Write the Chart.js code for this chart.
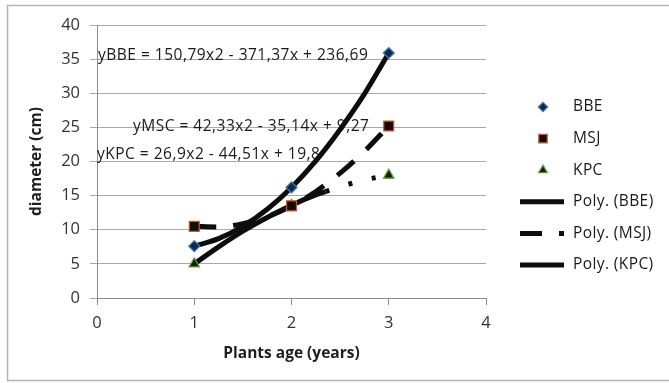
<!DOCTYPE html>
<html>
<head>
<meta charset="utf-8">
<script src="https://cdn.jsdelivr.net/npm/chart.js@4.4.1/dist/chart.umd.min.js"></script>
<style>
  html, body { margin: 0; padding: 0; background: #ffffff; }
  canvas { display: block; }
</style>
</head>
<body>
<canvas id="chart" width="669" height="383"></canvas>
<script>
// Measured stem diameter by plant age
const ages = [1, 2, 3];
const bbe = [7.6, 16.2, 35.9];
const msj = [10.5, 13.5, 25.2];
const kpc = [5.0, 13.6, 18.0];

// Second-order polynomial trend lines, sampled along the age axis
const trendAges = [1, 1.25, 1.5, 1.75, 2, 2.25, 2.5, 2.75, 3];
const trendBBE = [7.6, 8.7, 10.5, 13.0, 16.2, 20.1, 24.7, 29.9, 35.9];
const trendMSJ = [10.5, 10.4, 10.9, 11.9, 13.5, 15.6, 18.3, 21.5, 25.2];
const trendAgesKPC = [1, 1.25, 1.5, 1.75, 2, 2.25, 2.35, 2.5, 2.75, 3];
const trendKPC = [5.0, 7.5, 9.8, 11.8, 13.6, 15.1, 15.6, 16.3, 17.3, 18.0];

// Trend equations and where they sit (age, diameter)
const eqTexts = [
  'yBBE = 150,79x2 - 371,37x + 236,69',
  'yMSC = 42,33x2 - 35,14x + 9,27',
  'yKPC = 26,9x2 - 44,51x + 19,8'
];
const eqAnchors = [[0.01, 35.45], [0.37, 25.05], [0.0, 20.95]];

const xTicks = [0, 1, 2, 3, 4];
const yTicks = [0, 5, 10, 15, 20, 25, 30, 35, 40];

const legendLabels = ['BBE', 'MSJ', 'KPC', 'Poly. (BBE)', 'Poly. (MSJ)', 'Poly. (KPC)'];

const FONT = '"Open Sans", Lato, sans-serif';

const pts = (xs, ys) => xs.map((x, i) => ({ x: x, y: ys[i] }));

const markerStyles = [
  { pointStyle: 'rectRot', radius: 5.5, bg: '#14294a', border: '#3f7db8' },
  { pointStyle: 'rect', radius: 7, bg: '#120c0a', border: '#c65a30' },
  { pointStyle: 'triangle', radius: 6, bg: '#141f0e', border: '#5f9e3c' }
];
const TREND_W = 5;
const MSJ_DASH = [22, 17];

function markerDataset(label, ys, st) {
  return {
    type: 'scatter', label: label, data: pts(ages, ys), order: 0,
    pointStyle: st.pointStyle, pointRadius: st.radius, pointHoverRadius: st.radius,
    backgroundColor: st.bg, borderColor: st.border, borderWidth: 1.2, showLine: false
  };
}
function trendDataset(label, xs, ys, extra) {
  return Object.assign({
    type: 'line', label: label, data: pts(xs, ys), order: 1,
    borderColor: '#0d0d0d', borderWidth: TREND_W, pointRadius: 0,
    cubicInterpolationMode: 'monotone', fill: false, borderCapStyle: 'butt'
  }, extra || {});
}

const framePlugin = {
  id: 'frame',
  beforeDraw(chart) {
    const c = chart.ctx;
    c.save();
    c.fillStyle = '#ffffff';
    c.fillRect(0, 0, chart.width, chart.height);
    c.strokeStyle = '#b4b4b4';
    c.lineWidth = 1.5;
    c.strokeRect(7.5, 5.5, chart.width + 10, 375);
    c.restore();
  }
};

const equationPlugin = {
  id: 'equations',
  beforeDatasetsDraw(chart) {
    const c = chart.ctx;
    const xs = chart.scales.x, ys = chart.scales.y;
    c.save();
    c.font = '15.5px ' + FONT;
    c.letterSpacing = '0.5px';
    c.fillStyle = '#1a1a1a';
    c.textBaseline = 'middle';
    c.textAlign = 'left';
    eqTexts.forEach((t, i) => {
      c.fillText(t, xs.getPixelForValue(eqAnchors[i][0]), ys.getPixelForValue(eqAnchors[i][1]));
    });
    c.restore();
  }
};

const legendPlugin = {
  id: 'sideLegend',
  afterDraw(chart) {
    const c = chart.ctx;
    const right = chart.chartArea.right;
    const markX = right + 57, lineX0 = right + 34, lineX1 = right + 78, textX = right + 87;
    const y0 = 107, step = 31.6;
    c.save();
    c.font = '15.5px ' + FONT;
    c.letterSpacing = '0.4px';
    c.textBaseline = 'middle';
    legendLabels.forEach((lab, i) => {
      const y = y0 + i * step;
      if (i < 3) {
        const st = markerStyles[i];
        c.fillStyle = st.bg;
        c.strokeStyle = st.border;
        c.lineWidth = 1.2;
        Chart.helpers.drawPoint(c, { pointStyle: st.pointStyle, radius: st.radius * 0.85, borderWidth: 1.2 }, markX, y);
      } else {
        c.strokeStyle = '#0d0d0d';
        c.lineWidth = TREND_W;
        c.setLineDash(i === 4 ? MSJ_DASH : []);
        c.beginPath();
        c.moveTo(lineX0, y);
        c.lineTo(lineX1, y);
        c.stroke();
        c.setLineDash([]);
      }
      c.fillStyle = '#1a1a1a';
      c.fillText(lab, textX, y);
    });
    c.restore();
  }
};

new Chart(document.getElementById('chart'), {
  data: {
    datasets: [
      markerDataset('BBE', bbe, markerStyles[0]),
      markerDataset('MSJ', msj, markerStyles[1]),
      markerDataset('KPC', kpc, markerStyles[2]),
      trendDataset('Poly. (BBE)', trendAges, trendBBE),
      trendDataset('Poly. (MSJ)', trendAges, trendMSJ, { borderDash: MSJ_DASH }),
      trendDataset('Poly. (KPC)', trendAgesKPC, trendKPC, {
        segment: { borderDash: ctx => (ctx.p0.parsed.x >= 2.34 ? [4, 20] : undefined) }
      })
    ]
  },
  options: {
    responsive: false,
    animation: false,
    devicePixelRatio: 1,
    layout: { padding: { left: 0, right: 183, top: 25, bottom: 0 } },
    plugins: { legend: { display: false }, tooltip: { enabled: false } },
    scales: {
      x: {
        type: 'linear', min: 0, max: 4,
        afterFit(s) { s.height = 85; },
        afterBuildTicks(s) { s.ticks = xTicks.map(v => ({ value: v })); },
        ticks: { color: '#333333', font: { family: FONT, size: 16.5 }, padding: 8 },
        grid: { drawOnChartArea: false, drawTicks: true, tickLength: 7, color: '#8c8c8c' },
        border: { color: '#8c8c8c', width: 1 },
        title: {
          display: true, text: 'Plants age (years)', color: '#1e1e1e',
          font: { family: FONT, size: 15.5, weight: 'bold' }, padding: { top: 0, bottom: 20 }
        }
      },
      y: {
        type: 'linear', min: 0, max: 40,
        afterFit(s) { s.width = 97; },
        afterBuildTicks(s) { s.ticks = yTicks.map(v => ({ value: v })); },
        ticks: { color: '#333333', font: { family: FONT, size: 16.5 }, padding: 10 },
        grid: { color: '#a9a9a9', tickLength: 7, lineWidth: 1 },
        border: { color: '#8c8c8c', width: 1 },
        title: {
          display: true, text: 'diameter (cm)', color: '#1e1e1e',
          font: { family: FONT, size: 15.5, weight: 'bold' }, padding: { top: 27, bottom: 0 }
        }
      }
    }
  },
  plugins: [framePlugin, equationPlugin, legendPlugin]
});
</script>
</body>
</html>
